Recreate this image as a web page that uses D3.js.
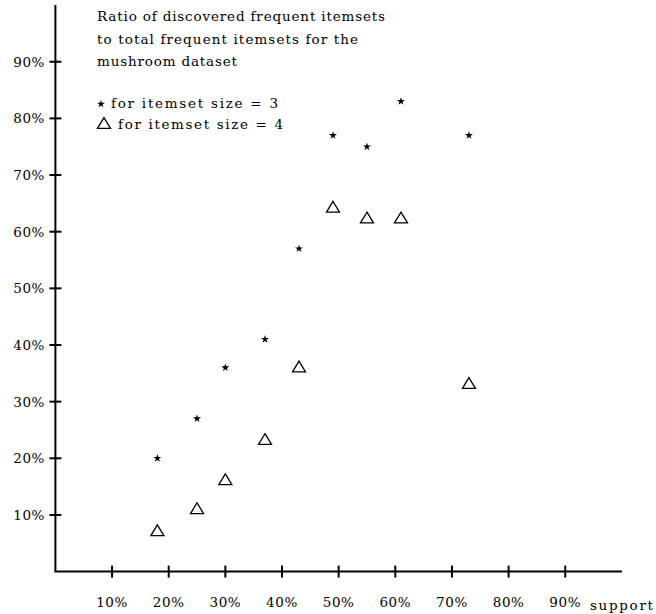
<!DOCTYPE html>
<html>
<head>
<meta charset="utf-8">
<script src="https://cdn.jsdelivr.net/npm/d3@7"></script>
<style>
  html, body { margin: 0; padding: 0; background: #fff; }
  svg { display: block; }
  text { font-family: "DejaVu Serif", "Liberation Serif", serif; fill: #000; }
</style>
</head>
<body>
<script>
// ---- data ----
const supportValues = [18, 25, 30, 37, 43, 49, 55, 61, 73];          // support, %
const ratioSize3 = [20, 27, 36, 41, 57, 77, 75, 83, 77];              // ratio, % (stars)
const ratioSize4 = [7.3, 11.2, 16.3, 23.4, 36.2, 64.4, 62.5, 62.5, 33.3]; // ratio, % (triangles)
const xTicks = [10, 20, 30, 40, 50, 60, 70, 80, 90];
const yTicks = [10, 20, 30, 40, 50, 60, 70, 80, 90];
const titleLines = ["Ratio of discovered frequent itemsets",
                    "to total frequent itemsets for the",
                    "mushroom dataset"];
const legendLabels = ["for itemset size = 3", "for itemset size = 4"];
const xAxisLabel = "support";

// ---- layout ----
const W = 656, H = 614;
const svg = d3.select("body").append("svg").attr("width", W).attr("height", H);

const x = d3.scaleLinear().domain([0, 100]).range([55.4, 621.9]);
const y = d3.scaleLinear().domain([0, 100]).range([571.6, 5.1]);

// axes lines
svg.append("line").attr("x1", x(0)).attr("x2", x(0)).attr("y1", y(100)).attr("y2", y(0))
  .attr("stroke", "#000").attr("stroke-width", 2);
svg.append("line").attr("x1", x(0) - 1).attr("x2", x(100)).attr("y1", y(0)).attr("y2", y(0))
  .attr("stroke", "#000").attr("stroke-width", 2);

// y ticks
const yg = svg.append("g").selectAll("g").data(yTicks).join("g");
yg.append("line").attr("x1", x(0) - 6).attr("x2", x(0) + 6)
  .attr("y1", d => y(d)).attr("y2", d => y(d)).attr("stroke", "#000").attr("stroke-width", 2);
yg.append("text").attr("x", 45).attr("y", d => y(d) + 5).attr("text-anchor", "end")
  .attr("font-size", 13.5).attr("letter-spacing", 0.6).text(d => d + "%");

// x ticks
const xg = svg.append("g").selectAll("g").data(xTicks).join("g");
xg.append("line").attr("x1", d => x(d)).attr("x2", d => x(d))
  .attr("y1", y(0) - 6).attr("y2", y(0) + 6).attr("stroke", "#000").attr("stroke-width", 2);
xg.append("text").attr("x", d => x(d)).attr("y", 607).attr("text-anchor", "middle")
  .attr("font-size", 13.5).attr("letter-spacing", 0.6).text(d => d + "%");

svg.append("text").attr("x", 590).attr("y", 610).attr("font-size", 13.5)
  .attr("textLength", 63).attr("lengthAdjust", "spacing").text(xAxisLabel);

// title
const titleWidths = [288, 261, 140];
svg.append("g").selectAll("text").data(titleLines).join("text")
  .attr("x", 97).attr("y", (d, i) => 21 + i * 22.5)
  .attr("font-size", 13.5)
  .attr("textLength", (d, i) => titleWidths[i]).attr("lengthAdjust", "spacing")
  .text(d => d);

// custom symbols
const triangleType = {
  draw(ctx, size) {
    const w = Math.sqrt(size);         // width
    const h = w * 0.83;
    ctx.moveTo(0, -h / 2);
    ctx.lineTo(w / 2, h / 2);
    ctx.lineTo(-w / 2, h / 2);
    ctx.closePath();
  }
};
const starPath = d3.symbol().type(d3.symbolStar).size(20)();
const triPath = d3.symbol().type(triangleType).size(13 * 13)();

// legend
svg.append("path").attr("d", starPath).attr("transform", "translate(101,104)").attr("fill", "#000");
svg.append("path").attr("d", triPath).attr("transform", "translate(104,123)")
  .attr("fill", "none").attr("stroke", "#000").attr("stroke-width", 1.3);
svg.append("text").attr("x", 111).attr("y", 108).attr("font-size", 13.5)
  .attr("textLength", 167).attr("lengthAdjust", "spacing").text(legendLabels[0]);
svg.append("text").attr("x", 118).attr("y", 129).attr("font-size", 13.5)
  .attr("textLength", 165).attr("lengthAdjust", "spacing").text(legendLabels[1]);

// data points
svg.append("g").selectAll("path").data(supportValues.map((s, i) => [s, ratioSize3[i]])).join("path")
  .attr("d", starPath).attr("fill", "#000")
  .attr("transform", d => `translate(${x(d[0])},${y(d[1])})`);
svg.append("g").selectAll("path").data(supportValues.map((s, i) => [s, ratioSize4[i]])).join("path")
  .attr("d", triPath).attr("fill", "none").attr("stroke", "#000").attr("stroke-width", 1.3)
  .attr("transform", d => `translate(${x(d[0])},${y(d[1])})`);
</script>
</body>
</html>
